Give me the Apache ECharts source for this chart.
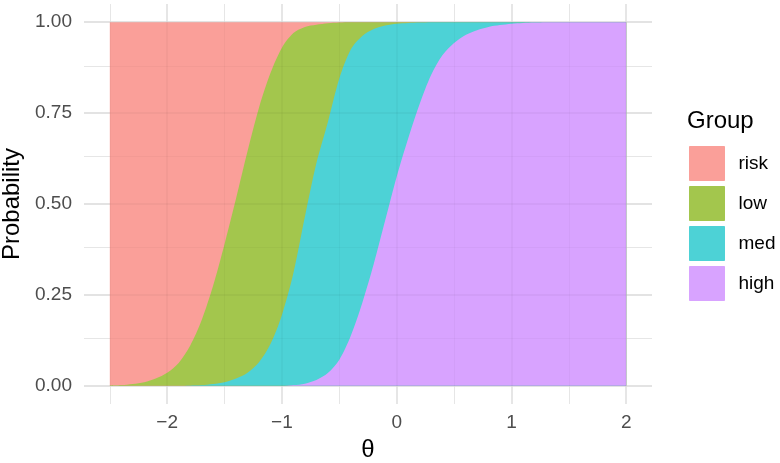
<!DOCTYPE html>
<html>
<head>
<meta charset="utf-8">
<script src="https://cdn.jsdelivr.net/npm/echarts@6/dist/echarts.min.js"></script>
<style>html,body{margin:0;padding:0;background:#fff}#c{width:780px;height:463px}</style>
</head>
<body>
<div id="c"></div>
<script>
// theta grid (x values)
const theta = [-2.5,-2.4,-2.3,-2.2,-2.1,-2.0,-1.9,-1.8,-1.7,-1.6,-1.5,-1.4,-1.3,-1.2,-1.1,-1.0,-0.9,-0.8,-0.7,-0.6,-0.5,-0.4,-0.3,-0.2,-0.1,0.0,0.1,0.2,0.3,0.4,0.5,0.6,0.7,0.8,0.9,1.0,1.1,1.2,1.3,1.4,1.5,1.6,1.7,1.8,1.9,2.0];
// cumulative boundaries (stacked from the bottom: high, med, low, risk)
// top of "high" (P(high))
const cumHigh = [0,0,0,0,0,0,0,0,0,0,0,0,0,0,0,0,0.002,0.006,0.016,0.035,0.072,0.138,0.228,0.335,0.455,0.575,0.680,0.775,0.855,0.910,0.943,0.965,0.978,0.987,0.992,0.996,0.998,0.999,1,1,1,1,1,1,1,1];
// top of "med" (P(high)+P(med))
const cumMed = [0,0,0,0,0,0,0,0.001,0.002,0.005,0.010,0.020,0.036,0.065,0.115,0.195,0.310,0.465,0.612,0.725,0.845,0.925,0.962,0.981,0.991,0.996,0.998,0.999,1,1,1,1,1,1,1,1,1,1,1,1,1,1,1,1,1,1];
// top of "low" (P(high)+P(med)+P(low))
const cumLow = [0.001,0.002,0.005,0.010,0.020,0.036,0.063,0.110,0.180,0.275,0.390,0.515,0.645,0.765,0.860,0.930,0.970,0.987,0.993,0.997,0.999,1,1,1,1,1,1,1,1,1,1,1,1,1,1,1,1,1,1,1,1,1,1,1,1,1];
// top of "risk" (total)
const cumRisk = [1,1,1,1,1,1,1,1,1,1,1,1,1,1,1,1,1,1,1,1,1,1,1,1,1,1,1,1,1,1,1,1,1,1,1,1,1,1,1,1,1,1,1,1,1,1];

const groups = ['risk','low','med','high'];
// ggplot hues at alpha 0.7 over white
const colors = {
  risk: 'rgb(250,159,153)',
  low: 'rgb(163,198,77)',
  med: 'rgb(77,210,214)',
  high: 'rgb(216,163,255)'
};
const xMajor = [-2,-1,0,1,2];
const xMinor = [-2.5,-1.5,-0.5,0.5,1.5];
const yMajor = [0,0.25,0.5,0.75,1];
const yMinor = [0.125,0.375,0.625,0.875];

const tops = {high: cumHigh, med: cumMed, low: cumLow, risk: cumRisk};

function seriesFor(g){
  const top = tops[g];
  return {
    name: g, type: 'line', data: theta.map((t,i) => [t, top[i]]),
    smooth: 0.3,
    showSymbol: false, symbol: 'none',
    lineStyle: {width: 0, color: colors[g]},
    itemStyle: {color: colors[g]},
    areaStyle: {color: colors[g], opacity: 1, origin: 0},
    z: 3, silent: true
  };
}

const fontFam = '"Liberation Sans", Arial, sans-serif';
const mk = (arr, axis, w, c) => arr.map(v => ({[axis]: v, lineStyle: {width: w, color: c, type: 'solid'}}));
const gridLines = (c) => [].concat(mk(xMinor,'xAxis',0.9,c), mk(yMinor,'yAxis',0.9,c), mk(xMajor,'xAxis',1.8,c), mk(yMajor,'yAxis',1.8,c));
const gridSeries = (name, c, z) => ({
  name: name, type: 'line', data: [[0,0.5]], symbol: 'none', showSymbol: false,
  lineStyle: {opacity: 0, width: 0}, z: z, silent: true,
  markLine: {silent: true, symbol: 'none', animation: false, z: z, label: {show: false}, data: gridLines(c)}
});

const chart = echarts.init(document.getElementById('c'), null, {renderer: 'canvas'});
chart.setOption({
  animation: false,
  backgroundColor: '#ffffff',
  textStyle: {fontFamily: fontFam},
  title: {
    text: 'Group', left: 687, top: 109, padding: 0,
    textStyle: {fontSize: 24, fontWeight: 'normal', color: '#000', fontFamily: fontFam}
  },
  legend: {
    orient: 'vertical', left: 689, top: 146, padding: 0,
    itemWidth: 35, itemHeight: 34, itemGap: 5,
    icon: 'rect',
    data: groups.map(g => ({name: g, icon: 'rect', itemStyle: {color: colors[g], borderColor: colors[g], borderWidth: 1}})),
    textStyle: {fontSize: 19, color: '#000', fontFamily: fontFam, padding: [0,0,0,9]},
    selectedMode: false
  },
  grid: {left: 84, right: 128, top: 4, bottom: 59, containLabel: false, outerBoundsMode: 'none'},
  xAxis: {
    type: 'value', min: -2.725, max: 2.225,
    axisLine: {show: false}, axisTick: {show: false}, splitLine: {show: false},
    axisLabel: {
      customValues: xMajor, margin: 9, fontSize: 19, color: '#4D4D4D', fontFamily: fontFam,
      formatter: v => String(v).replace('-', '\u2212')
    },
    name: 'θ', nameLocation: 'middle', nameGap: 34,
    nameTextStyle: {fontSize: 24, color: '#000', fontFamily: fontFam}
  },
  yAxis: {
    type: 'value', min: -0.05, max: 1.05,
    axisLine: {show: false}, axisTick: {show: false}, splitLine: {show: false},
    axisLabel: {
      customValues: yMajor, margin: 12, fontSize: 19, color: '#4D4D4D', fontFamily: fontFam,
      formatter: v => v.toFixed(2)
    },
    name: 'Probability', nameLocation: 'middle', nameGap: 59,
    nameTextStyle: {fontSize: 24, color: '#000', fontFamily: fontFam}
  },
  series: [
    gridSeries('_grid', '#EBEBEB', 1),
    seriesFor('risk'), seriesFor('low'), seriesFor('med'), seriesFor('high'),
    gridSeries('_gridOver', 'rgba(0,0,0,0.03)', 10)
  ]
});
</script>
</body>
</html>
